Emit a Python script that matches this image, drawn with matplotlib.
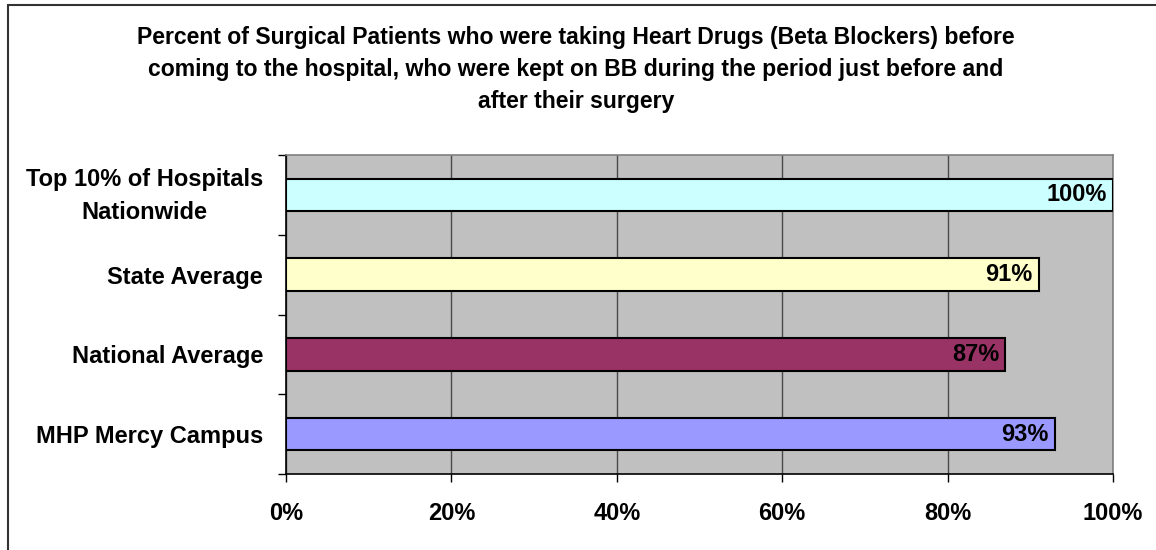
import numpy as np
import matplotlib
matplotlib.use("Agg")
import matplotlib.pyplot as plt
from matplotlib.patches import Rectangle
from matplotlib.transforms import ScaledTranslation

# data, bottom to top as drawn
categories = ["MHP Mercy Campus", "National Average", "State Average",
              "Top 10% of Hospitals\nNationwide"]
values = [93, 87, 91, 100]
bar_colors = ["#9999FF", "#993366", "#FFFFCC", "#CCFFFF"]
xticks = [0, 20, 40, 60, 80, 100]
title = ("Percent of Surgical Patients who were taking Heart Drugs (Beta Blockers) before\n"
         "coming to the hospital, who were kept on BB during the period just before and\n"
         "after their surgery")

plt.rcParams['font.family'] = ['Liberation Sans', 'DejaVu Sans']
plt.rcParams['font.weight'] = 'bold'
FS = 17
TFS = 16.6

fig = plt.figure(figsize=(11.56, 5.5), dpi=100)
fig.patch.set_facecolor("white")

# outer chart frame
fig.patches.append(Rectangle((8 / 1156, -0.05), 1.2, 1 - 5 / 550 + 0.05,
                             transform=fig.transFigure, fill=False,
                             edgecolor="#333333", linewidth=1.5))

ax = fig.add_axes([286 / 1156, 1 - 474 / 550, 827 / 1156, 319 / 550])
ax.set_facecolor("#C0C0C0")

y = np.arange(len(categories))
ax.barh(y, values, height=0.41, color=bar_colors, edgecolor="black",
        linewidth=1.5, zorder=3)

for yi, v in zip(y, values):
    ax.text(v - 0.75, yi, f"{v}%", ha="right", va="center",
            fontsize=FS, fontweight="bold", zorder=4)

ax.set_xlim(0, 100)
ax.set_ylim(-0.5, len(categories) - 0.5)

ax.set_xticks(xticks)
ax.set_xticklabels([f"{t}%" for t in xticks], fontsize=FS, fontweight="bold")
ax.tick_params(axis="x", length=6, width=1, pad=14, color="black")

ax.set_yticks(np.arange(-0.5, len(categories), 1))
ax.set_yticklabels([])
ax.tick_params(axis="y", which="major", length=6, width=1, color="black")
ax.set_yticks(y, minor=True)
ax.set_yticklabels(categories, minor=True, fontsize=FS, fontweight="bold",
                   ha="right", multialignment="center", linespacing=1.55)
ax.tick_params(axis="y", which="minor", length=0, pad=16.5)

# the two-line label sits a little high in the original
for lab in ax.get_yticklabels(minor=True):
    if "\n" in lab.get_text():
        lab.set_transform(lab.get_transform() +
                          ScaledTranslation(0, 6 / 100, fig.dpi_scale_trans))

ax.grid(axis="x", color="#4a4a4a", linewidth=1, zorder=1)
ax.set_axisbelow(True)

for s in ["top", "right"]:
    ax.spines[s].set_color("#808080")
    ax.spines[s].set_linewidth(1.2)
for s in ["left", "bottom"]:
    ax.spines[s].set_color("black")
    ax.spines[s].set_linewidth(1.2)

fig.text(576 / 1156, 1 - 26 / 550, title, ha="center", va="top",
         fontsize=TFS, fontweight="bold", linespacing=1.5)

fig.savefig("out.png", dpi=100)
